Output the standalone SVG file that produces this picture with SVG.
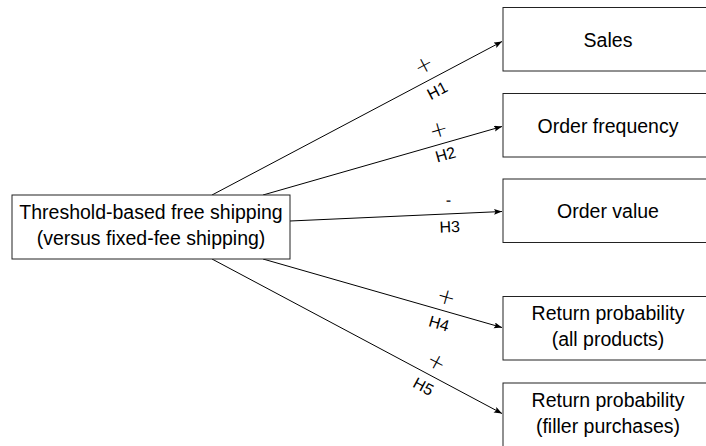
<svg xmlns="http://www.w3.org/2000/svg" width="706" height="446" viewBox="0 0 706 446">
<style>
.box{fill:#fff;stroke:#222;stroke-width:1}
.t{font-family:"Liberation Sans",Arial,sans-serif;font-size:19.5px;fill:#000;text-anchor:middle}
.edge{fill:none;stroke:#000;stroke-width:1}
.lbl{font-family:"Liberation Sans",Arial,sans-serif;font-size:16px;fill:#000;text-anchor:middle;dominant-baseline:central}
.sg{font-family:"DejaVu Sans",sans-serif;font-weight:200;font-size:22px;fill:#000;text-anchor:middle;dominant-baseline:central}
</style>
<defs>
<marker id="ah" markerUnits="userSpaceOnUse" markerWidth="9" markerHeight="7" refX="8" refY="3" orient="auto">
<path d="M0,0 L8,3 L0,6 L1.5,3 z" fill="#000"/>
</marker>
</defs>
<rect width="706" height="446" fill="#fff"/>
<g id="connectors">
<line class="edge" x1="212" y1="195" x2="502" y2="41.5" marker-end="url(#ah)"/>
<line class="edge" x1="263" y1="195" x2="502" y2="126.5" marker-end="url(#ah)"/>
<line class="edge" x1="290" y1="221" x2="502" y2="211.5" marker-end="url(#ah)"/>
<line class="edge" x1="263" y1="259" x2="502" y2="327.5" marker-end="url(#ah)"/>
<line class="edge" x1="212" y1="259" x2="502" y2="413.5" marker-end="url(#ah)"/>
<text class="sg" transform="translate(423.7,64.9) rotate(-27.9)">+</text>
<text class="lbl" transform="translate(437.3,90.5) rotate(-27.9)">H1</text>
<text class="sg" transform="translate(438.5,129.5) rotate(-16)">+</text>
<text class="lbl" transform="translate(445.5,154.5) rotate(-16)">H2</text>
<text class="lbl" transform="translate(448.4,199.9) rotate(-2.6)">-</text>
<text class="lbl" transform="translate(449.6,226.9) rotate(-2.6)">H3</text>
<text class="sg" transform="translate(446.4,296.5) rotate(16)">+</text>
<text class="lbl" transform="translate(439,323.5) rotate(16)">H4</text>
<text class="sg" transform="translate(436.6,361.7) rotate(28.05)">+</text>
<text class="lbl" transform="translate(423.4,386.4) rotate(28.05)">H5</text>
</g>
<g id="treatment">
<rect class="box" x="12" y="195" width="278" height="64"/>
<text class="t" x="151" y="219">Threshold-based free shipping</text>
<text class="t" x="151" y="245">(versus fixed-fee shipping)</text>
</g>
<g id="sales">
<rect class="box" x="503" y="7.5" width="212" height="63.5"/>
<text class="t" x="608" y="46.5">Sales</text>
</g>
<g id="order-frequency">
<rect class="box" x="503" y="93.5" width="212" height="63.5"/>
<text class="t" x="608" y="132.5">Order frequency</text>
</g>
<g id="order-value">
<rect class="box" x="503" y="179" width="212" height="63.5"/>
<text class="t" x="608" y="218">Order value</text>
</g>
<g id="return-all">
<rect class="box" x="503" y="296.5" width="212" height="63.5"/>
<text class="t" x="608" y="320">Return probability</text>
<text class="t" x="608" y="346">(all products)</text>
</g>
<g id="return-filler">
<rect class="box" x="503" y="383" width="212" height="64"/>
<text class="t" x="608" y="406.5">Return probability</text>
<text class="t" x="608" y="432.5">(filler purchases)</text>
</g>
</svg>
